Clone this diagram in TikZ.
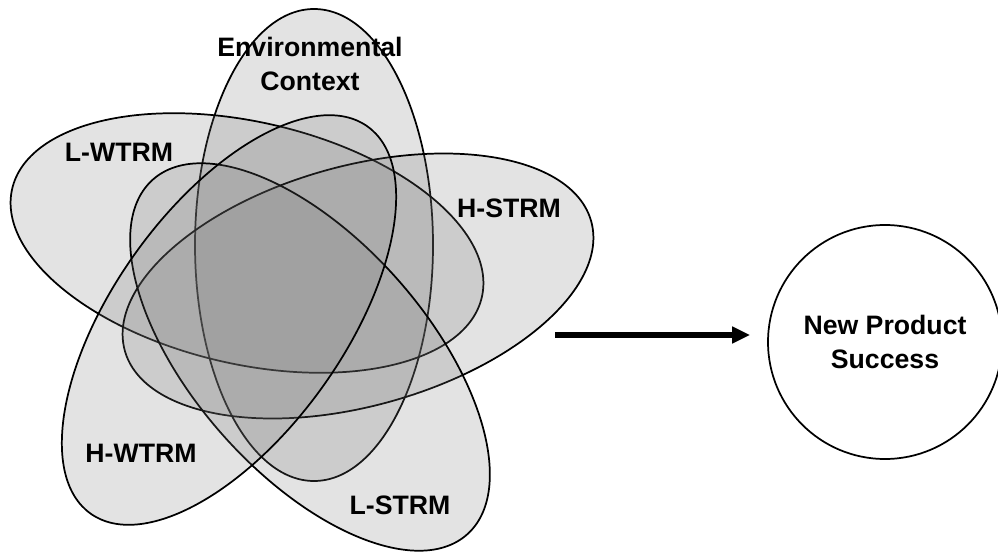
\documentclass[tikz,border=0pt]{standalone}
\usepackage{fontspec}
\setmainfont{Liberation Sans}
\usetikzlibrary{arrows.meta}

\begin{document}
\begin{tikzpicture}[x=0.75pt, y=0.75pt,
    petal/.style={draw=black, line width=1.3pt, fill=black!55, fill opacity=0.2},
    lbl/.style={font=\fontsize{20}{25}\selectfont\bfseries, align=center},
    bigarrow/.style={line width=4pt, -{Triangle[length=13.5pt, width=12pt]}}]
    \useasboundingbox (0,0) rectangle (998,554);

    % Draw the five overlapping ellipses
    \foreach \cx/\cy/\a/\b/\ang in {314/309/236/119/90, 247/311/241/121/-13,
        358/268/242/120/15.5, 310/197/237/117/-48.5, 229/234/238/115/54.4}
      \draw[petal, rotate around={\ang:(\cx,\cy)}] (\cx,\cy) ellipse [x radius=\a, y radius=\b];

    % Labels of the ellipses
    \node[lbl] (env) at (310,490) {Environmental\\Context};
    \node[lbl] (lwtrm) at (119,402) {L-WTRM};
    \node[lbl] (hstrm) at (509,346) {H-STRM};
    \node[lbl] (hwtrm) at (141,101) {H-WTRM};
    \node[lbl] (lstrm) at (400,49) {L-STRM};

    % Outcome and arrow
    \node[lbl, draw, circle, line width=1.3pt, minimum size=175.5pt, inner sep=0pt] (success) at (885,212) {New Product\\Success};
    \coordinate (arrowstart) at (555,219);
    \draw[bigarrow, shorten >=12.75pt] (arrowstart) -- (arrowstart -| success.west);
\end{tikzpicture}
\end{document}
